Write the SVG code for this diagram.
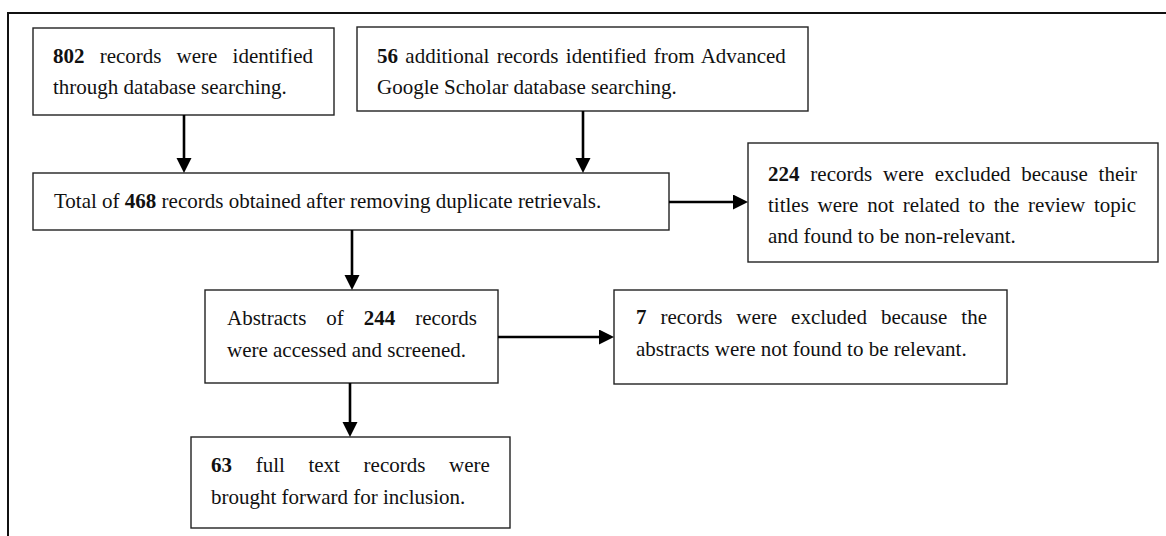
<svg xmlns="http://www.w3.org/2000/svg" width="1166" height="536" viewBox="0 0 1166 536">
<style>
  .box { fill: #fff; stroke: #222; stroke-width: 1.4; }
  .t { font-family: "Liberation Serif", "Times New Roman", serif; font-size: 21px; fill: #111; }
  .b { font-weight: bold; }
  .conn { stroke: #000; stroke-width: 2.6; fill: none; marker-end: url(#ah); }
</style>
<defs>
  <marker id="ah" markerUnits="userSpaceOnUse" markerWidth="16" markerHeight="16" refX="1" refY="7.5" orient="auto">
    <path d="M0,0 L15,7.5 L0,15 z" fill="#000"/>
  </marker>
</defs>
<rect width="1166" height="536" fill="#fff"/>
<path d="M8,536 V13 H1166" fill="none" stroke="#111" stroke-width="2"/>

<g id="n1">
  <rect class="box" x="33" y="28" width="301" height="87"/>
  <text class="t" x="53" y="63" word-spacing="9.9"><tspan class="b">802</tspan> records were identified</text>
  <text class="t" x="53" y="94">through database searching.</text>
</g>
<g id="n2">
  <rect class="box" x="357" y="27" width="451" height="84"/>
  <text class="t" x="377" y="63" word-spacing="2.1"><tspan class="b">56</tspan> additional records identified from Advanced</text>
  <text class="t" x="377" y="94">Google Scholar database searching.</text>
</g>
<g id="n3">
  <rect class="box" x="33" y="173" width="636" height="57"/>
  <text class="t" x="54" y="208">Total of <tspan class="b">468</tspan> records obtained after removing duplicate retrievals.</text>
</g>
<g id="n4">
  <rect class="box" x="748" y="143" width="410" height="119"/>
  <text class="t" x="768" y="181" word-spacing="5.6"><tspan class="b">224</tspan> records were excluded because their</text>
  <text class="t" x="768" y="212" word-spacing="3.5">titles were not related to the review topic</text>
  <text class="t" x="768" y="243">and found to be non-relevant.</text>
</g>
<g id="n5">
  <rect class="box" x="205" y="290" width="293" height="93"/>
  <text class="t" x="227" y="325" word-spacing="14.7">Abstracts of <tspan class="b">244</tspan> records</text>
  <text class="t" x="227" y="357">were accessed and screened.</text>
</g>
<g id="n6">
  <rect class="box" x="614" y="290" width="393" height="94"/>
  <text class="t" x="636" y="324" word-spacing="8.75"><tspan class="b">7</tspan> records were excluded because the</text>
  <text class="t" x="636" y="356">abstracts were not found to be relevant.</text>
</g>
<g id="n7">
  <rect class="box" x="191" y="437" width="319" height="91"/>
  <text class="t" x="211" y="472" word-spacing="18.4"><tspan class="b">63</tspan> full text records were</text>
  <text class="t" x="211" y="504">brought forward for inclusion.</text>
</g>

<g id="connectors">
  <line class="conn" x1="184" y1="115" x2="184" y2="159"/>
  <line class="conn" x1="583" y1="111" x2="583" y2="159"/>
  <line class="conn" x1="669" y1="202" x2="734" y2="202"/>
  <line class="conn" x1="352" y1="230" x2="352" y2="276"/>
  <line class="conn" x1="498" y1="337" x2="600" y2="337"/>
  <line class="conn" x1="350" y1="383" x2="350" y2="423"/>
</g>
</svg>
